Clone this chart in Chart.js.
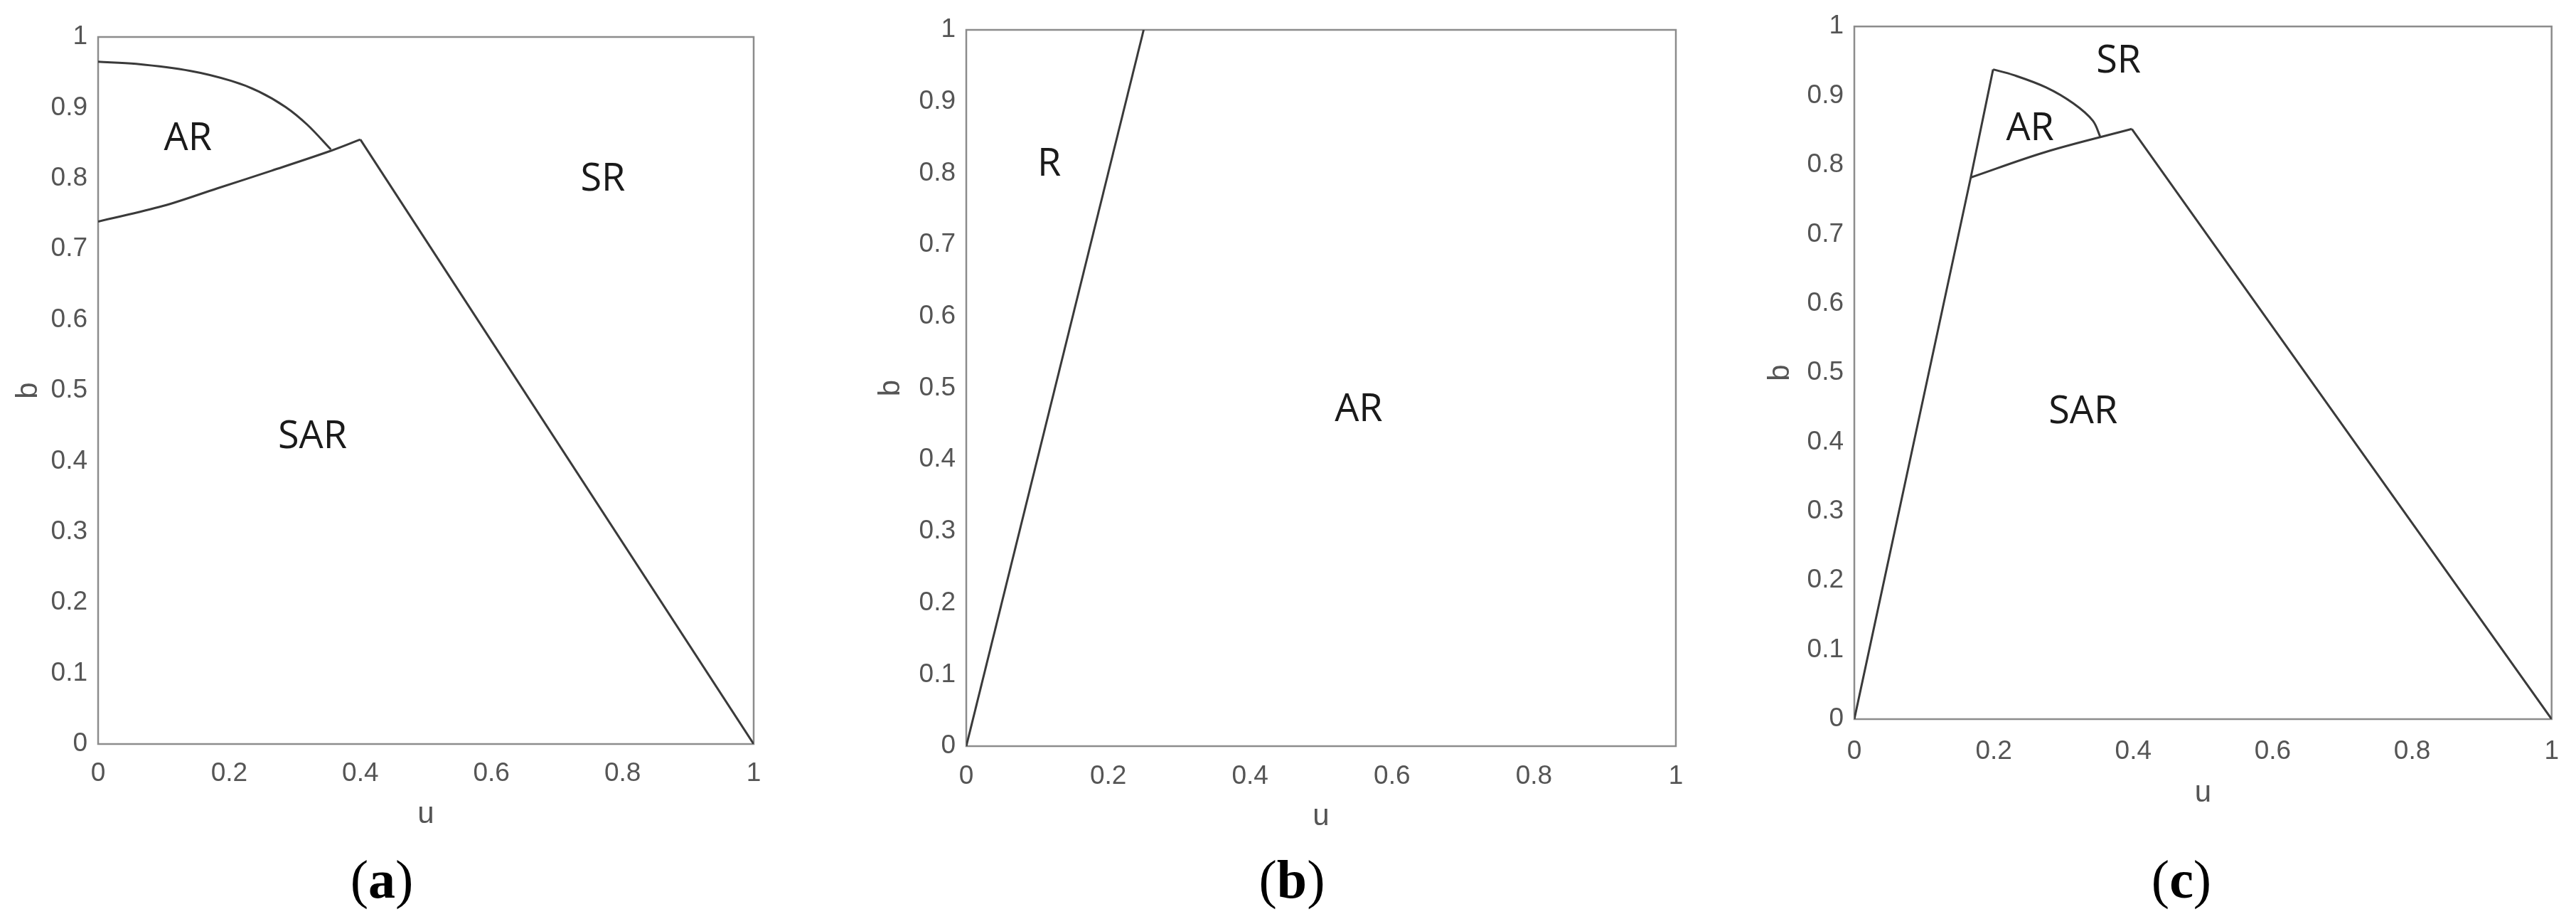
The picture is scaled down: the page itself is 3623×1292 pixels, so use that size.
<!DOCTYPE html>
<html lang="en">
<head>
  <meta charset="UTF-8">
  <title>Region diagrams</title>
  <script src="https://cdn.jsdelivr.net/npm/chart.js"></script>
  <style>
    body {
      margin: 0;
      background: #fff;
      width: 3623px;
      height: 1292px;
      position: relative;
      overflow: hidden;
    }
    .panel {
      position: absolute;
      top: 0;
      height: 1292px;
    }
    .caption {
      position: absolute;
      font-family: "Liberation Serif", "Times New Roman", serif;
      font-size: 76px;
      color: #000;
      line-height: 1;
      transform: translate(-50%, -50%);
    }
  </style>
</head>
<body>
  <div class="panel" style="left:0px;width:1190px"><canvas id="chartA" width="1190" height="1292"></canvas></div>
  <div class="panel" style="left:1200px;width:1200px"><canvas id="chartB" width="1200" height="1292"></canvas></div>
  <div class="panel" style="left:2420px;width:1203px"><canvas id="chartC" width="1203" height="1292"></canvas></div>

  <div class="caption" style="left:537px;top:1236px">(<b>a</b>)</div>
  <div class="caption" style="left:1817px;top:1236px">(<b>b</b>)</div>
  <div class="caption" style="left:3068px;top:1236px">(<b>c</b>)</div>

  <script>
    // panel (a)
    const aUpperU = [0, 0.058, 0.141, 0.203, 0.245, 0.286, 0.319, 0.355];
    const aUpperB = [0.965, 0.962, 0.952, 0.938, 0.923, 0.901, 0.876, 0.841];
    const aLowerU = [0, 0.099, 0.182, 0.265, 0.355, 0.400];
    const aLowerB = [0.739, 0.761, 0.786, 0.811, 0.839, 0.855];
    const aEdgeU = [0.400, 1];
    const aEdgeB = [0.855, 0];
    const aLabels = ["AR", "SR", "SAR"];
    const aLabelU = [0.137, 0.770, 0.327];
    const aLabelB = [0.856, 0.798, 0.434];

    // panel (b)
    const bLineU = [0, 0.25];
    const bLineB = [0, 1];
    const bLabels = ["R", "AR"];
    const bLabelU = [0.117, 0.553];
    const bLabelB = [0.812, 0.469];

    // panel (c)
    const cLeftU = [0, 0.167, 0.199];
    const cLeftB = [0, 0.782, 0.938];
    const cArcU = [0.199, 0.228, 0.275, 0.314, 0.342, 0.353];
    const cArcB = [0.938, 0.930, 0.912, 0.889, 0.864, 0.840];
    const cLowerU = [0.167, 0.275, 0.398];
    const cLowerB = [0.782, 0.819, 0.852];
    const cEdgeU = [0.398, 1];
    const cEdgeB = [0.852, 0];
    const cLabels = ["SR", "AR", "SAR"];
    const cLabelU = [0.379, 0.252, 0.328];
    const cLabelB = [0.949, 0.852, 0.443];

    // axis ticks
    const uTicks = [0, 0.2, 0.4, 0.6, 0.8, 1];
    const bTicks = [0, 0.1, 0.2, 0.3, 0.4, 0.5, 0.6, 0.7, 0.8, 0.9, 1];

    const lineColor = "#3a3a3a";
    const tickColor = "#555555";
    const tickFont = { family: "'Liberation Sans', Arial, sans-serif", size: 37 };
    const titleFont = { family: "'Liberation Sans', Arial, sans-serif", size: 42 };

    function series(us, bs, curved) {
      return {
        data: us.map((u, i) => ({ x: u, y: bs[i] })),
        showLine: true,
        borderColor: lineColor,
        borderWidth: 3,
        pointRadius: 0,
        fill: false,
        tension: curved ? 0.35 : 0
      };
    }

    // frame round the plot area
    const framePlugin = {
      id: "frame",
      beforeDatasetsDraw(chart) {
        const { ctx, chartArea } = chart;
        ctx.save();
        ctx.strokeStyle = "#8c8c8c";
        ctx.lineWidth = 2.5;
        ctx.strokeRect(chartArea.left, chartArea.top,
          chartArea.right - chartArea.left, chartArea.bottom - chartArea.top);
        ctx.restore();
      }
    };

    // region names placed in data units
    const regionPlugin = {
      id: "regions",
      afterDatasetsDraw(chart, args, opts) {
        const { ctx, scales } = chart;
        ctx.save();
        ctx.fillStyle = "#1a1a1a";
        ctx.font = "54px 'Open Sans', 'Noto Sans', sans-serif";
        ctx.textAlign = "center";
        ctx.textBaseline = "middle";
        opts.texts.forEach((t, i) => {
          ctx.fillText(t, scales.x.getPixelForValue(opts.us[i]), scales.y.getPixelForValue(opts.bs[i]));
        });
        ctx.restore();
      }
    };

    function makePanel(id, datasets, texts, us, bs, box) {
      return new Chart(document.getElementById(id), {
        type: "scatter",
        data: { datasets: datasets },
        plugins: [framePlugin, regionPlugin],
        options: {
          responsive: false,
          animation: false,
          layout: { padding: { top: box.top, right: box.right, left: 0, bottom: 0 } },
          plugins: {
            legend: { display: false },
            tooltip: { enabled: false },
            regions: { texts: texts, us: us, bs: bs }
          },
          scales: {
            x: {
              type: "linear",
              min: 0,
              max: 1,
              afterBuildTicks: s => { s.ticks = uTicks.map(v => ({ value: v })); },
              afterFit: s => { s.height = box.xHeight; },
              ticks: {
                color: tickColor,
                font: tickFont,
                padding: box.xTickPad,
                maxRotation: 0,
                autoSkip: false,
                callback: v => String(Math.round(v * 10) / 10)
              },
              grid: { display: false, drawTicks: false },
              border: { display: false },
              title: {
                display: true,
                text: "u",
                color: tickColor,
                font: titleFont,
                padding: { top: 0, bottom: box.xTitlePad }
              }
            },
            y: {
              type: "linear",
              min: 0,
              max: 1,
              afterBuildTicks: s => { s.ticks = bTicks.map(v => ({ value: v })); },
              afterFit: s => { s.width = box.yWidth; },
              ticks: {
                color: tickColor,
                font: tickFont,
                padding: 15,
                autoSkip: false,
                callback: v => String(Math.round(v * 10) / 10)
              },
              grid: { display: false, drawTicks: false },
              border: { display: false },
              title: {
                display: true,
                text: "b",
                color: tickColor,
                font: titleFont,
                padding: { top: box.yTitlePad, bottom: 0 }
              }
            }
          }
        }
      });
    }

    makePanel("chartA", [
      series(aUpperU, aUpperB, true),
      series(aLowerU, aLowerB, true),
      series(aEdgeU, aEdgeB, false)
    ], aLabels, aLabelU, aLabelB,
      { top: 52, right: 130, yWidth: 138, xHeight: 246, xTickPad: 20, xTitlePad: 121, yTitlePad: 15 });

    makePanel("chartB", [
      series(bLineU, bLineB, false)
    ], bLabels, bLabelU, bLabelB,
      { top: 42, right: 43, yWidth: 159, xHeight: 243, xTickPad: 21, xTitlePad: 118, yTitlePad: 28 });

    makePanel("chartC", [
      series(cLeftU, cLeftB, false),
      series(cArcU, cArcB, true),
      series(cLowerU, cLowerB, true),
      series(cEdgeU, cEdgeB, false)
    ], cLabels, cLabelU, cLabelB,
      { top: 33, right: 31, yWidth: 188, xHeight: 281, xTickPad: 24, xTitlePad: 151, yTitlePad: 59 });
  </script>
</body>
</html>
